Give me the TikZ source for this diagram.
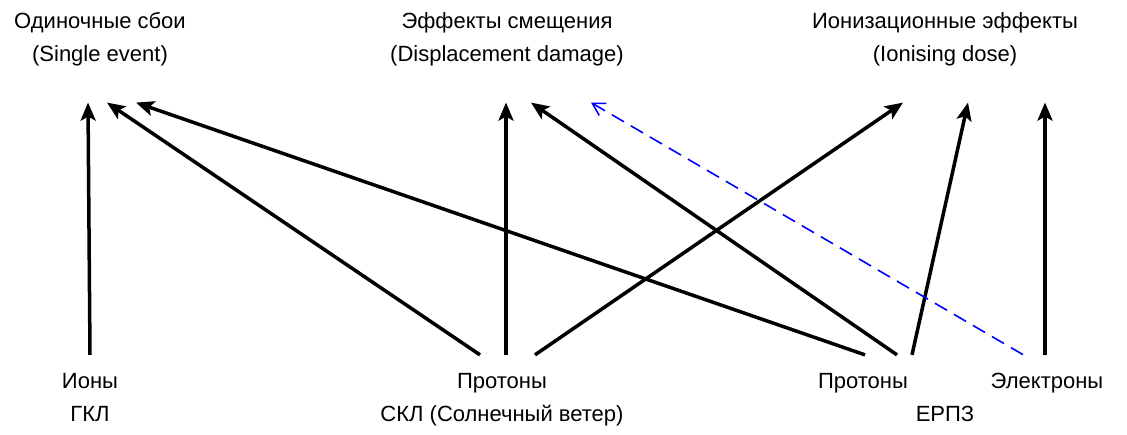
\documentclass[tikz,border=0pt]{standalone}
\usepackage{fontspec}
\setmainfont{Liberation Sans}
\usetikzlibrary{arrows.meta}

\begin{document}
\begin{tikzpicture}
[
	x=1pt, y=-1pt,
	effect/.style={align=center,inner sep=0pt,outer ysep=37pt,font=\fontsize{22}{33}\selectfont},
	source/.style={align=center,inner sep=0pt,outer ysep=18pt,font=\fontsize{22}{33}\selectfont},
	flow/.style={-{Stealth[length=18pt,width=15pt,inset=4pt]},line width=3.5pt},
	eflow/.style={-{Straight Barb[length=12pt,width=14pt]},line width=1.6pt,blue,dash pattern=on 14pt off 8pt}
]
	\useasboundingbox (0,0) rectangle (1127,434);

	% effects (base = last line)
	\node[effect,anchor=base] (single) at (100,61) {Одиночные сбои\\(Single event)};
	\node[effect,anchor=base] (displ) at (507,61) {Эффекты смещения\\(Displacement damage)};
	\node[effect,anchor=base] (ionis) at (945,61) {Ионизационные эффекты\\(Ionising dose)};

	% sources
	\node[source,anchor=base] (gcr) at (90,421) {Ионы\\ГКЛ};
	\node[source,anchor=base] (scl) at (502,421) {Протоны\\СКЛ (Солнечный ветер)};
	\node[source,anchor=base] (prot) at (863,388) {Протоны};
	\node[source,anchor=base] (elec) at (1047,388) {Электроны};
	\node[source,anchor=base] (erpz) at (945,421) {ЕРПЗ};

	% links
	\draw[flow] (gcr.north) -- ([xshift=-12pt]single.south);
	\draw[flow] ([xshift=-22pt]scl.north) -- ([xshift=7pt]single.south);
	\draw[flow] ([xshift=2pt]prot.north) -- ([xshift=36pt]single.south);
	\draw[flow] ([xshift=4pt]scl.north) -- ([xshift=-1pt]displ.south);
	\draw[flow] ([xshift=34pt]prot.north) -- ([xshift=24pt]displ.south);
	\draw[flow] ([xshift=33pt]scl.north) -- ([xshift=-42pt]ionis.south);
	\draw[flow] ([xshift=49pt]prot.north) -- ([xshift=23pt]ionis.south);
	\draw[flow] ([xshift=-2pt]elec.north) -- ([xshift=100pt]ionis.south);
	\draw[eflow] ([xshift=-24pt]elec.north) -- ([xshift=84pt]displ.south);

\end{tikzpicture}
\end{document}
